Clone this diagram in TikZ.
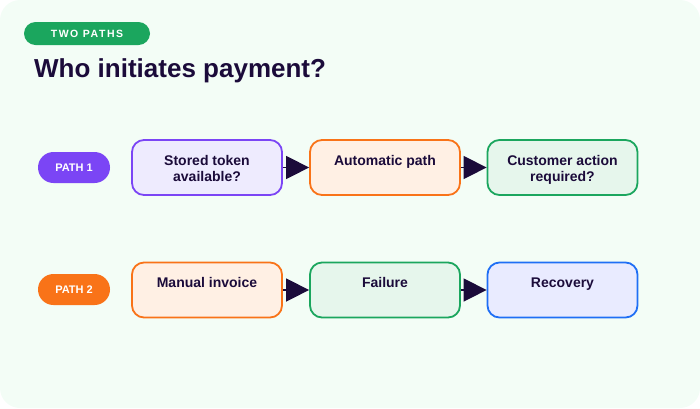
\documentclass[tikz,border=0pt]{standalone}
\usepackage{fontspec}
\setmainfont{Liberation Sans}
\usepackage{tikz}
\usetikzlibrary{arrows.meta, positioning}

\definecolor{ink}{HTML}{1B0B3A}
\definecolor{mint}{HTML}{F3FDF6}
\definecolor{grn}{HTML}{1BA65E}
\definecolor{grnfill}{HTML}{E6F6EC}
\definecolor{prp}{HTML}{7B45F5}
\definecolor{prpfill}{HTML}{EEEBFE}
\definecolor{org}{HTML}{F97318}
\definecolor{orgfill}{HTML}{FFF0E4}
\definecolor{blu}{HTML}{1F6FF5}
\definecolor{blufill}{HTML}{E9EBFF}

\begin{document}
\begin{tikzpicture}[x=1pt, y=-1pt,
    pill/.style={shape=rectangle, rounded corners=15.5pt, minimum width=72pt, minimum height=31pt, text=white, font=\bfseries\fontsize{11}{13}\selectfont},
    card/.style={shape=rectangle, rounded corners=12pt, draw, line width=1.8pt, minimum width=150pt, minimum height=55pt},
    cardtext/.style={font=\bfseries\fontsize{14}{16}\selectfont, align=center, text=ink, inner sep=0pt},
    flow/.style={-{Triangle[length=23pt, width=23pt]}, line width=1.5pt, ink}]
            \useasboundingbox (0,0) rectangle (700,408);
            \fill[mint, rounded corners=20pt] (0,0) rectangle (700,408);
            %Heading
            \node (tag) at (87,33.5) [shape=rectangle, fill=grn, rounded corners=11.5pt, minimum width=126pt, minimum height=23pt, text=white, font=\bfseries\fontsize{10.5}{12}\selectfont\addfontfeatures{LetterSpace=15}] {TWO PATHS};
            \node (title) at (34,77) [anchor=base west, inner sep=0pt, text=ink, font=\bfseries\fontsize{26}{30}\selectfont] {Who initiates payment?};
            %Path 1
            \node (p1) at (74,167.5) [pill, fill=prp] {PATH 1};
            \node (a1) at (207,167.5) [card, draw=prp, fill=prpfill] {};
            \node (a2) at (385,167.5) [card, draw=org, fill=orgfill] {};
            \node (a3) at (562.5,167.5) [card, draw=grn, fill=grnfill] {};
            \node (t1) [cardtext, below=16pt of a1.north] {Stored token\\available?};
            \node (t2) [cardtext, below=16pt of a2.north] {Automatic path};
            \node (t3) [cardtext, below=16pt of a3.north] {Customer action\\required?};
            \draw[flow] (a1) -- (a2);
            \draw[flow] (a2) -- (a3);
            %Path 2
            \node (p2) at (74,289.5) [pill, fill=org] {PATH 2};
            \node (b1) at (207,290) [card, draw=org, fill=orgfill] {};
            \node (b2) at (385,290) [card, draw=grn, fill=grnfill] {};
            \node (b3) at (562.5,290) [card, draw=blu, fill=blufill] {};
            \node (u1) [cardtext, below=16pt of b1.north] {Manual invoice};
            \node (u2) [cardtext, below=16pt of b2.north] {Failure};
            \node (u3) [cardtext, below=16pt of b3.north] {Recovery};
            \draw[flow] (b1) -- (b2);
            \draw[flow] (b2) -- (b3);
        \end{tikzpicture}
\end{document}
